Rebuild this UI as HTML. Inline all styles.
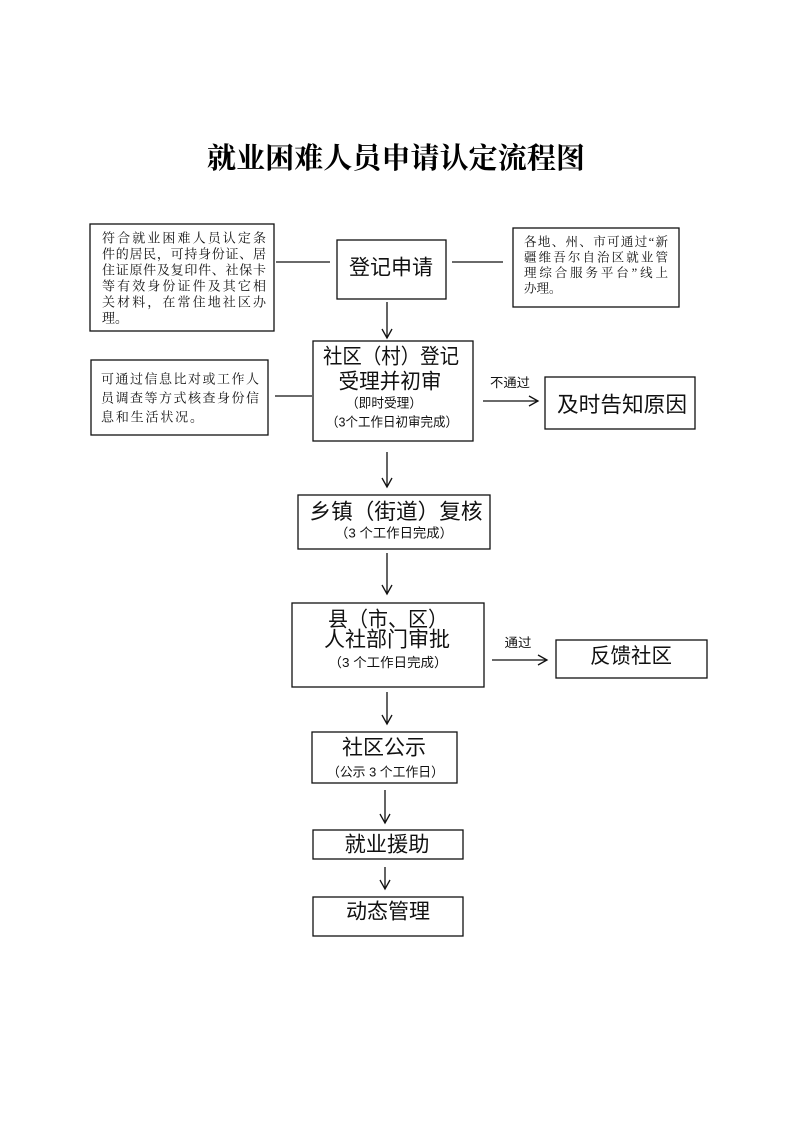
<!DOCTYPE html>
<html>
<head>
<meta charset="utf-8">
<style>
html,body{margin:0;padding:0;background:#fff;}
svg{display:block;}
.t{font-family:"Liberation Serif","Noto Serif CJK SC",serif;font-weight:bold;}
.n{font-family:"Liberation Serif","Noto Serif CJK SC",serif;fill:#111;}
.b{font-family:"Liberation Sans","Noto Sans CJK SC",sans-serif;fill:#111;}
</style>
</head>
<body>
<svg width="793" height="1122" viewBox="0 0 793 1122" xmlns="http://www.w3.org/2000/svg">
<rect width="793" height="1122" fill="#fff"/>

<!-- Title -->
<text class="t" x="396" y="159" font-size="29" text-anchor="middle" dominant-baseline="central" textLength="378" lengthAdjust="spacingAndGlyphs">就业困难人员申请认定流程图</text>

<g fill="none" stroke="#111" stroke-width="1.3">
  <!-- boxes -->
  <rect x="90" y="224" width="184" height="107"/>
  <rect x="337" y="240" width="109" height="59"/>
  <rect x="513" y="228" width="166" height="79"/>
  <rect x="313" y="341" width="160" height="100"/>
  <rect x="91" y="360" width="177" height="75"/>
  <rect x="545" y="377" width="150" height="52"/>
  <rect x="298" y="495" width="192" height="54"/>
  <rect x="292" y="603" width="192" height="84"/>
  <rect x="556" y="640" width="151" height="38"/>
  <rect x="312" y="732" width="145" height="51"/>
  <rect x="313" y="830" width="150" height="29"/>
  <rect x="313" y="897" width="150" height="39"/>

  <!-- plain connector lines -->
  <line x1="276" y1="262" x2="330" y2="262"/>
  <line x1="452" y1="262" x2="503" y2="262"/>
  <line x1="275" y1="396" x2="312" y2="396"/>

  <!-- vertical arrows -->
  <line x1="387" y1="302" x2="387" y2="338"/>
  <path d="M382,329 L387,338 L392,329"/>
  <line x1="387" y1="452" x2="387" y2="487"/>
  <path d="M382,478 L387,487 L392,478"/>
  <line x1="387" y1="553" x2="387" y2="594"/>
  <path d="M382,585 L387,594 L392,585"/>
  <line x1="387" y1="692" x2="387" y2="724"/>
  <path d="M382,715 L387,724 L392,715"/>
  <line x1="385" y1="790" x2="385" y2="823"/>
  <path d="M380,814 L385,823 L390,814"/>
  <line x1="385" y1="867" x2="385" y2="889"/>
  <path d="M380,880 L385,889 L390,880"/>

  <!-- horizontal arrows -->
  <line x1="483" y1="401" x2="538" y2="401"/>
  <path d="M529,396 L538,401 L529,406"/>
  <line x1="492" y1="660" x2="547" y2="660"/>
  <path d="M538,655 L547,660 L538,665"/>
</g>

<!-- Note 1 -->
<g class="n" font-size="13" dominant-baseline="central">
  <text x="102" y="238" textLength="164" lengthAdjust="spacing">符合就业困难人员认定条</text>
  <text x="102" y="254" textLength="164" lengthAdjust="spacing">件的居民，可持身份证、居</text>
  <text x="102" y="270" textLength="164" lengthAdjust="spacing">住证原件及复印件、社保卡</text>
  <text x="102" y="286" textLength="164" lengthAdjust="spacing">等有效身份证件及其它相</text>
  <text x="102" y="302" textLength="164" lengthAdjust="spacing">关材料，在常住地社区办</text>
  <text x="102" y="318">理。</text>
</g>

<!-- Right note -->
<g class="n" font-size="12.5" dominant-baseline="central">
  <text x="524" y="242" textLength="144" lengthAdjust="spacing">各地、州、市可通过“新</text>
  <text x="524" y="257.5" textLength="144" lengthAdjust="spacing">疆维吾尔自治区就业管</text>
  <text x="524" y="273" textLength="144" lengthAdjust="spacing">理综合服务平台”线上</text>
  <text x="524" y="288.5">办理。</text>
</g>

<!-- Note 2 -->
<g class="n" font-size="13" dominant-baseline="central">
  <text x="101" y="379" textLength="158" lengthAdjust="spacing">可通过信息比对或工作人</text>
  <text x="101" y="398" textLength="158" lengthAdjust="spacing">员调查等方式核查身份信</text>
  <text x="101" y="417" textLength="102" lengthAdjust="spacing">息和生活状况。</text>
</g>

<!-- Box texts -->
<g class="b" text-anchor="middle" dominant-baseline="central">
  <text x="391" y="268" font-size="21" textLength="84" lengthAdjust="spacingAndGlyphs">登记申请</text>

  <text x="391" y="357" font-size="21" textLength="136" lengthAdjust="spacingAndGlyphs">社区（村）登记</text>
  <text x="390" y="382" font-size="21" textLength="103" lengthAdjust="spacingAndGlyphs">受理并初审</text>
  <text x="384" y="403" font-size="13" textLength="76" lengthAdjust="spacingAndGlyphs">（即时受理）</text>
  <text x="392" y="422" font-size="13" textLength="132" lengthAdjust="spacingAndGlyphs">（3个工作日初审完成）</text>

  <text x="510" y="383" font-size="12.5" textLength="40" lengthAdjust="spacingAndGlyphs">不通过</text>
  <text x="622" y="405" font-size="21.5" textLength="130" lengthAdjust="spacingAndGlyphs">及时告知原因</text>

  <text x="396" y="512" font-size="21.5" textLength="173" lengthAdjust="spacingAndGlyphs">乡镇（街道）复核</text>
  <text x="394" y="533" font-size="13" textLength="118" lengthAdjust="spacingAndGlyphs">（3 个工作日完成）</text>

  <text x="388" y="620" font-size="21" textLength="120" lengthAdjust="spacingAndGlyphs">县（市、区）</text>
  <text x="387" y="640" font-size="21" textLength="126" lengthAdjust="spacingAndGlyphs">人社部门审批</text>
  <text x="388" y="662.5" font-size="13" textLength="119" lengthAdjust="spacingAndGlyphs">（3 个工作日完成）</text>

  <text x="518" y="643" font-size="12.5" textLength="27" lengthAdjust="spacingAndGlyphs">通过</text>
  <text x="631" y="656.5" font-size="21" textLength="82" lengthAdjust="spacingAndGlyphs">反馈社区</text>

  <text x="384" y="748" font-size="21" textLength="84" lengthAdjust="spacingAndGlyphs">社区公示</text>
  <text x="385.5" y="772" font-size="13" textLength="117" lengthAdjust="spacingAndGlyphs">（公示 3 个工作日）</text>

  <text x="387" y="845" font-size="21" textLength="85" lengthAdjust="spacingAndGlyphs">就业援助</text>
  <text x="388" y="912" font-size="21" textLength="84" lengthAdjust="spacingAndGlyphs">动态管理</text>
</g>
</svg>
</body>
</html>
